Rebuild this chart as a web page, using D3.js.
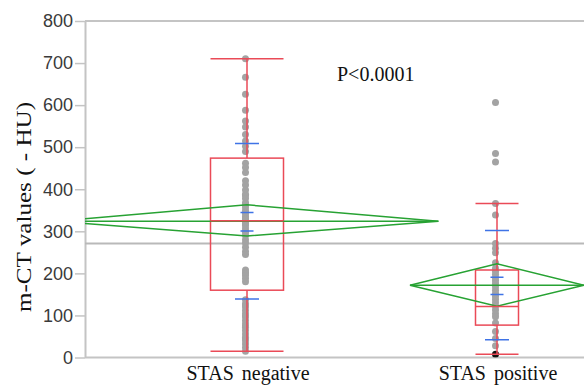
<!DOCTYPE html>
<html>
<head>
<meta charset="utf-8">
<script src="https://cdn.jsdelivr.net/npm/d3@7"></script>
<style>
  body { margin: 0; background: #fff; }
  svg { display: block; }
</style>
</head>
<body>
<svg id="chart"></svg>
<script>
// ---- data ----
var groups = ["STAS negative", "STAS positive"];
var yTicks = [0, 100, 200, 300, 400, 500, 600, 700, 800];

var negValues = [710, 666, 626, 588, 562, 548, 530, 515, 502, 490, 462, 452, 440, 420, 410,
  398, 388, 385, 378, 368, 365, 358, 350, 345, 342, 335, 330, 328, 320, 318, 313, 306, 300,
  298, 290, 280, 272, 262, 252, 245, 208, 202, 200, 195, 188, 180, 137, 128, 125, 120, 112,
  104, 100, 96, 88, 80, 75, 72, 64, 56, 48, 45, 40, 32, 24, 15];
var posValues = [606, 485, 465, 366, 339, 271, 260, 249, 225, 212, 205, 198, 190, 183, 176,
  168, 160, 152, 145, 138, 130, 122, 113, 104, 97, 82, 62, 45, 28, 8];
var highlighted = [8]; // black point in the positive group

var means = [324, 172];
var ciLow = [289, 122];
var ciHigh = [363, 223];
var seLow = [301, 150];
var seHigh = [345, 191];
var sdLow = [139, 42];
var sdHigh = [509, 302];
var q1 = [160, 77];
var medians = [325, 121];
var q3 = [474, 208];
var whiskLow = [15, 8];
var whiskHigh = [710, 366];
var grandMean = 271;
var pText = "P<0.0001";

// ---- layout ----
var W = 584, H = 385;
var margin = { top: 21, right: 0, bottom: 27.5, left: 85 };
var plotW = W - margin.left - margin.right,
    plotH = H - margin.top - margin.bottom;

var svg = d3.select("#chart").attr("width", W).attr("height", H);

var y = d3.scaleLinear().domain([0, 800]).range([margin.top + plotH, margin.top]);
var x = d3.scalePoint().domain(groups).range([margin.left + 162, margin.left + 412]);

var grey = "#c4c4c4", red = "#ea4a57", green = "#27a233", blue = "#3f73e6", dotGrey = "#a3a3a3";
var pxPerObs = 2.9;          // diamond half-width per observation
var boxHalf = [36.5, 21.5];  // box / cap half-widths
var sdHalf = 12, seHalf = 6.5;

var data = [negValues, posValues];

svg.append("clipPath").attr("id", "plotclip")
  .append("rect")
  .attr("x", margin.left).attr("y", margin.top)
  .attr("width", plotW).attr("height", plotH);

// frame
svg.append("line")
  .attr("x1", margin.left).attr("x2", W)
  .attr("y1", margin.top).attr("y2", margin.top)
  .attr("stroke", grey).attr("stroke-width", 2);
svg.append("line")
  .attr("x1", margin.left).attr("x2", W)
  .attr("y1", y(0)).attr("y2", y(0))
  .attr("stroke", grey).attr("stroke-width", 2);

// y axis
var yAxis = svg.append("g")
  .attr("transform", "translate(" + margin.left + ",0)")
  .call(d3.axisLeft(y).tickValues(yTicks).tickSize(10).tickPadding(2).tickSizeOuter(0));
yAxis.select(".domain").attr("stroke", grey).attr("stroke-width", 2);
yAxis.selectAll(".tick line").attr("stroke", grey).attr("stroke-width", 1.5);
yAxis.selectAll(".tick text")
  .attr("fill", "#3a3a3a")
  .style("font-family", "'Liberation Sans', Arial, sans-serif")
  .style("font-size", "18px");

// y label
svg.append("text")
  .attr("transform", "translate(31," + 207 + ") rotate(-90)")
  .attr("text-anchor", "middle")
  .attr("textLength", 210)
  .attr("lengthAdjust", "spacingAndGlyphs")
  .style("font-family", "'Liberation Serif', 'Times New Roman', serif")
  .style("font-size", "21px")
  .attr("fill", "#111")
  .text("m-CT values ( - HU)");

// x labels
svg.selectAll(".xlab").data(groups).enter().append("text")
  .attr("class", "xlab")
  .attr("x", function (d) { return x(d) + 1; })
  .attr("y", 380)
  .attr("text-anchor", "middle")
  .style("font-family", "'Liberation Serif', 'Times New Roman', serif")
  .style("font-size", "20px")
  .style("word-spacing", "3px")
  .attr("fill", "#111")
  .text(function (d) { return d; });

var plot = svg.append("g").attr("clip-path", "url(#plotclip)");

// grand mean line
plot.append("line")
  .attr("x1", margin.left).attr("x2", W)
  .attr("y1", y(grandMean)).attr("y2", y(grandMean))
  .attr("stroke", "#b9b9b9").attr("stroke-width", 2);

// points
groups.forEach(function (g, i) {
  plot.selectAll(".pt" + i).data(data[i]).enter().append("circle")
    .attr("class", "pt" + i)
    .attr("cx", x(g) - 1.5)
    .attr("cy", function (d) { return y(d); })
    .attr("r", 3.5)
    .attr("fill", function (d) { return (i === 1 && highlighted.indexOf(d) >= 0) ? "#111" : dotGrey; });
});

// boxes
groups.forEach(function (g, i) {
  var cx = x(g), bh = boxHalf[i];
  var gb = plot.append("g").attr("stroke", red).attr("stroke-width", 1.5).attr("fill", "none");
  gb.append("line").attr("x1", cx).attr("x2", cx).attr("y1", y(whiskHigh[i])).attr("y2", y(q3[i]));
  gb.append("line").attr("x1", cx).attr("x2", cx).attr("y1", y(q1[i])).attr("y2", y(whiskLow[i]));
  gb.append("rect")
    .attr("x", cx - bh).attr("width", bh * 2)
    .attr("y", y(q3[i])).attr("height", y(q1[i]) - y(q3[i]));
  gb.append("line").attr("x1", cx - bh).attr("x2", cx + bh).attr("y1", y(whiskHigh[i])).attr("y2", y(whiskHigh[i]));
  gb.append("line").attr("x1", cx - bh).attr("x2", cx + bh).attr("y1", y(whiskLow[i])).attr("y2", y(whiskLow[i]));
});

// mean diamonds
groups.forEach(function (g, i) {
  var cx = x(g), hw = data[i].length * pxPerObs;
  var pts = [[cx - hw, y(means[i])], [cx, y(ciHigh[i])], [cx + hw, y(means[i])], [cx, y(ciLow[i])]];
  plot.append("path")
    .attr("d", d3.line()(pts) + "Z")
    .attr("fill", "none").attr("stroke", green).attr("stroke-width", 1.5);
  plot.append("line")
    .attr("x1", cx - hw).attr("x2", cx + hw)
    .attr("y1", y(means[i])).attr("y2", y(means[i]))
    .attr("stroke", green).attr("stroke-width", 1.5);
});

// medians drawn over the diamonds
groups.forEach(function (g, i) {
  var cx = x(g), bh = boxHalf[i];
  plot.append("line")
    .attr("x1", cx - bh).attr("x2", cx + bh)
    .attr("y1", y(medians[i])).attr("y2", y(medians[i]))
    .attr("stroke", red).attr("stroke-width", 1.5);
});

// std dev and std error marks
groups.forEach(function (g, i) {
  var cx = x(g);
  var marks = [[sdHigh[i], sdHalf], [sdLow[i], sdHalf], [seHigh[i], seHalf], [seLow[i], seHalf]];
  plot.selectAll(".mk" + i).data(marks).enter().append("line")
    .attr("class", "mk" + i)
    .attr("x1", function (d) { return cx - d[1]; })
    .attr("x2", function (d) { return cx + d[1]; })
    .attr("y1", function (d) { return y(d[0]); })
    .attr("y2", function (d) { return y(d[0]); })
    .attr("stroke", blue).attr("stroke-width", 1.5);
});

// p-value
svg.append("text")
  .attr("x", 337).attr("y", 81)
  .style("font-family", "'Liberation Serif', 'Times New Roman', serif")
  .style("font-size", "20px")
  .attr("fill", "#111")
  .text(pText);
</script>
</body>
</html>
